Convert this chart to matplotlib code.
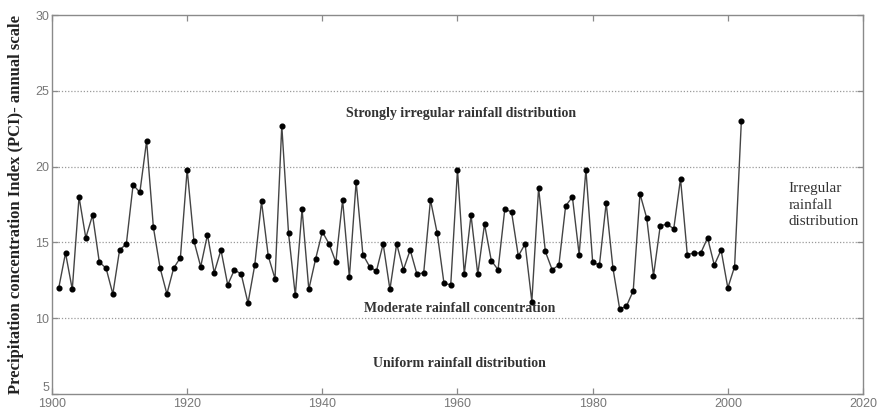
import matplotlib
matplotlib.use("Agg")
import matplotlib.pyplot as plt

# annual PCI values, 1901-2002
years = list(range(1901, 2003))
pci = [12.0, 14.3, 11.9, 18.0, 15.3, 16.8, 13.7, 13.3, 11.6, 14.5,
       14.9, 18.8, 18.3, 21.7, 16.0, 13.3, 11.6, 13.3, 14.0, 19.8,
       15.1, 13.4, 15.5, 13.0, 14.5, 12.2, 13.2, 12.9, 11.0, 13.5,
       17.7, 14.1, 12.6, 22.7, 15.6, 11.5, 17.2, 11.9, 13.9, 15.7,
       14.9, 13.7, 17.8, 12.7, 19.0, 14.2, 13.4, 13.1, 14.9, 11.9,
       14.9, 13.2, 14.5, 12.9, 13.0, 17.8, 15.6, 12.3, 12.2, 19.8,
       12.9, 16.8, 12.9, 16.2, 13.8, 13.2, 17.2, 17.0, 14.1, 14.9,
       11.1, 18.6, 14.4, 13.2, 13.5, 17.4, 18.0, 14.2, 19.8, 13.7,
       13.5, 17.6, 13.3, 10.6, 10.8, 11.8, 18.2, 16.6, 12.8, 16.1,
       16.2, 15.9, 19.2, 14.2, 14.3, 14.3, 15.3, 13.5, 14.5, 12.0,
       13.4, 23.0]

class_limits = [10, 15, 20, 25]
xticks = [1900, 1920, 1940, 1960, 1980, 2000, 2020]
yticks = [5, 10, 15, 20, 25, 30]

serif = ["Liberation Serif", "DejaVu Serif"]
axis_grey = "#8a8a8a"

fig = plt.figure(figsize=(8.8, 4.12), dpi=100)
ax = fig.add_axes([52 / 880, 1 - 394 / 412, (863 - 52) / 880, (394 - 15) / 412])

for lvl in class_limits:
    ax.axhline(lvl, color="#9a9a9a", linestyle=(0, (1, 1.5)), linewidth=0.9, zorder=1)

ax.plot(years, pci, color="#444444", linewidth=1.0, marker="o",
        markersize=3.4, markerfacecolor="black", markeredgecolor="black", zorder=3)

ax.set_xlim(1900, 2020)
ax.set_ylim(5, 30)
ax.set_xticks(xticks)
ax.set_yticks(yticks)

for s in ax.spines.values():
    s.set_color(axis_grey)
    s.set_linewidth(1.0)
ax.tick_params(direction="in", length=4, width=0.9, color=axis_grey,
               top=True, right=True, labelsize=9, labelcolor="#777777")
ax.tick_params(axis="x", pad=3)
ax.tick_params(axis="y", pad=2)
for lab in ax.get_xticklabels() + ax.get_yticklabels():
    lab.set_family(["Liberation Sans", "DejaVu Sans"])
# lowest y label sits just above the corner, as in the original
ax.get_yticklabels()[0].set_verticalalignment("bottom")

ax.set_ylabel("Precipitation concentration Index (PCI)- annual scale",
              family=serif, fontweight="bold", fontsize=12, color="#222222", labelpad=8)

txt = dict(family=serif, fontweight="bold", fontsize=10, color="#333333",
           ha="center", va="center")
ax.text(1960.6, 23.5, "Strongly irregular rainfall distribution", **txt)
ax.text(1960.3, 10.65, "Moderate rainfall concentration", **txt)
ax.text(1960.3, 7.0, "Uniform rainfall distribution", **txt)
ax.text(2009.0, 17.45, "Irregular\nrainfall\ndistribution", family=serif, fontsize=11,
        color="#333333", ha="left", va="center", linespacing=1.35)

fig.savefig("out.png", dpi=100)
